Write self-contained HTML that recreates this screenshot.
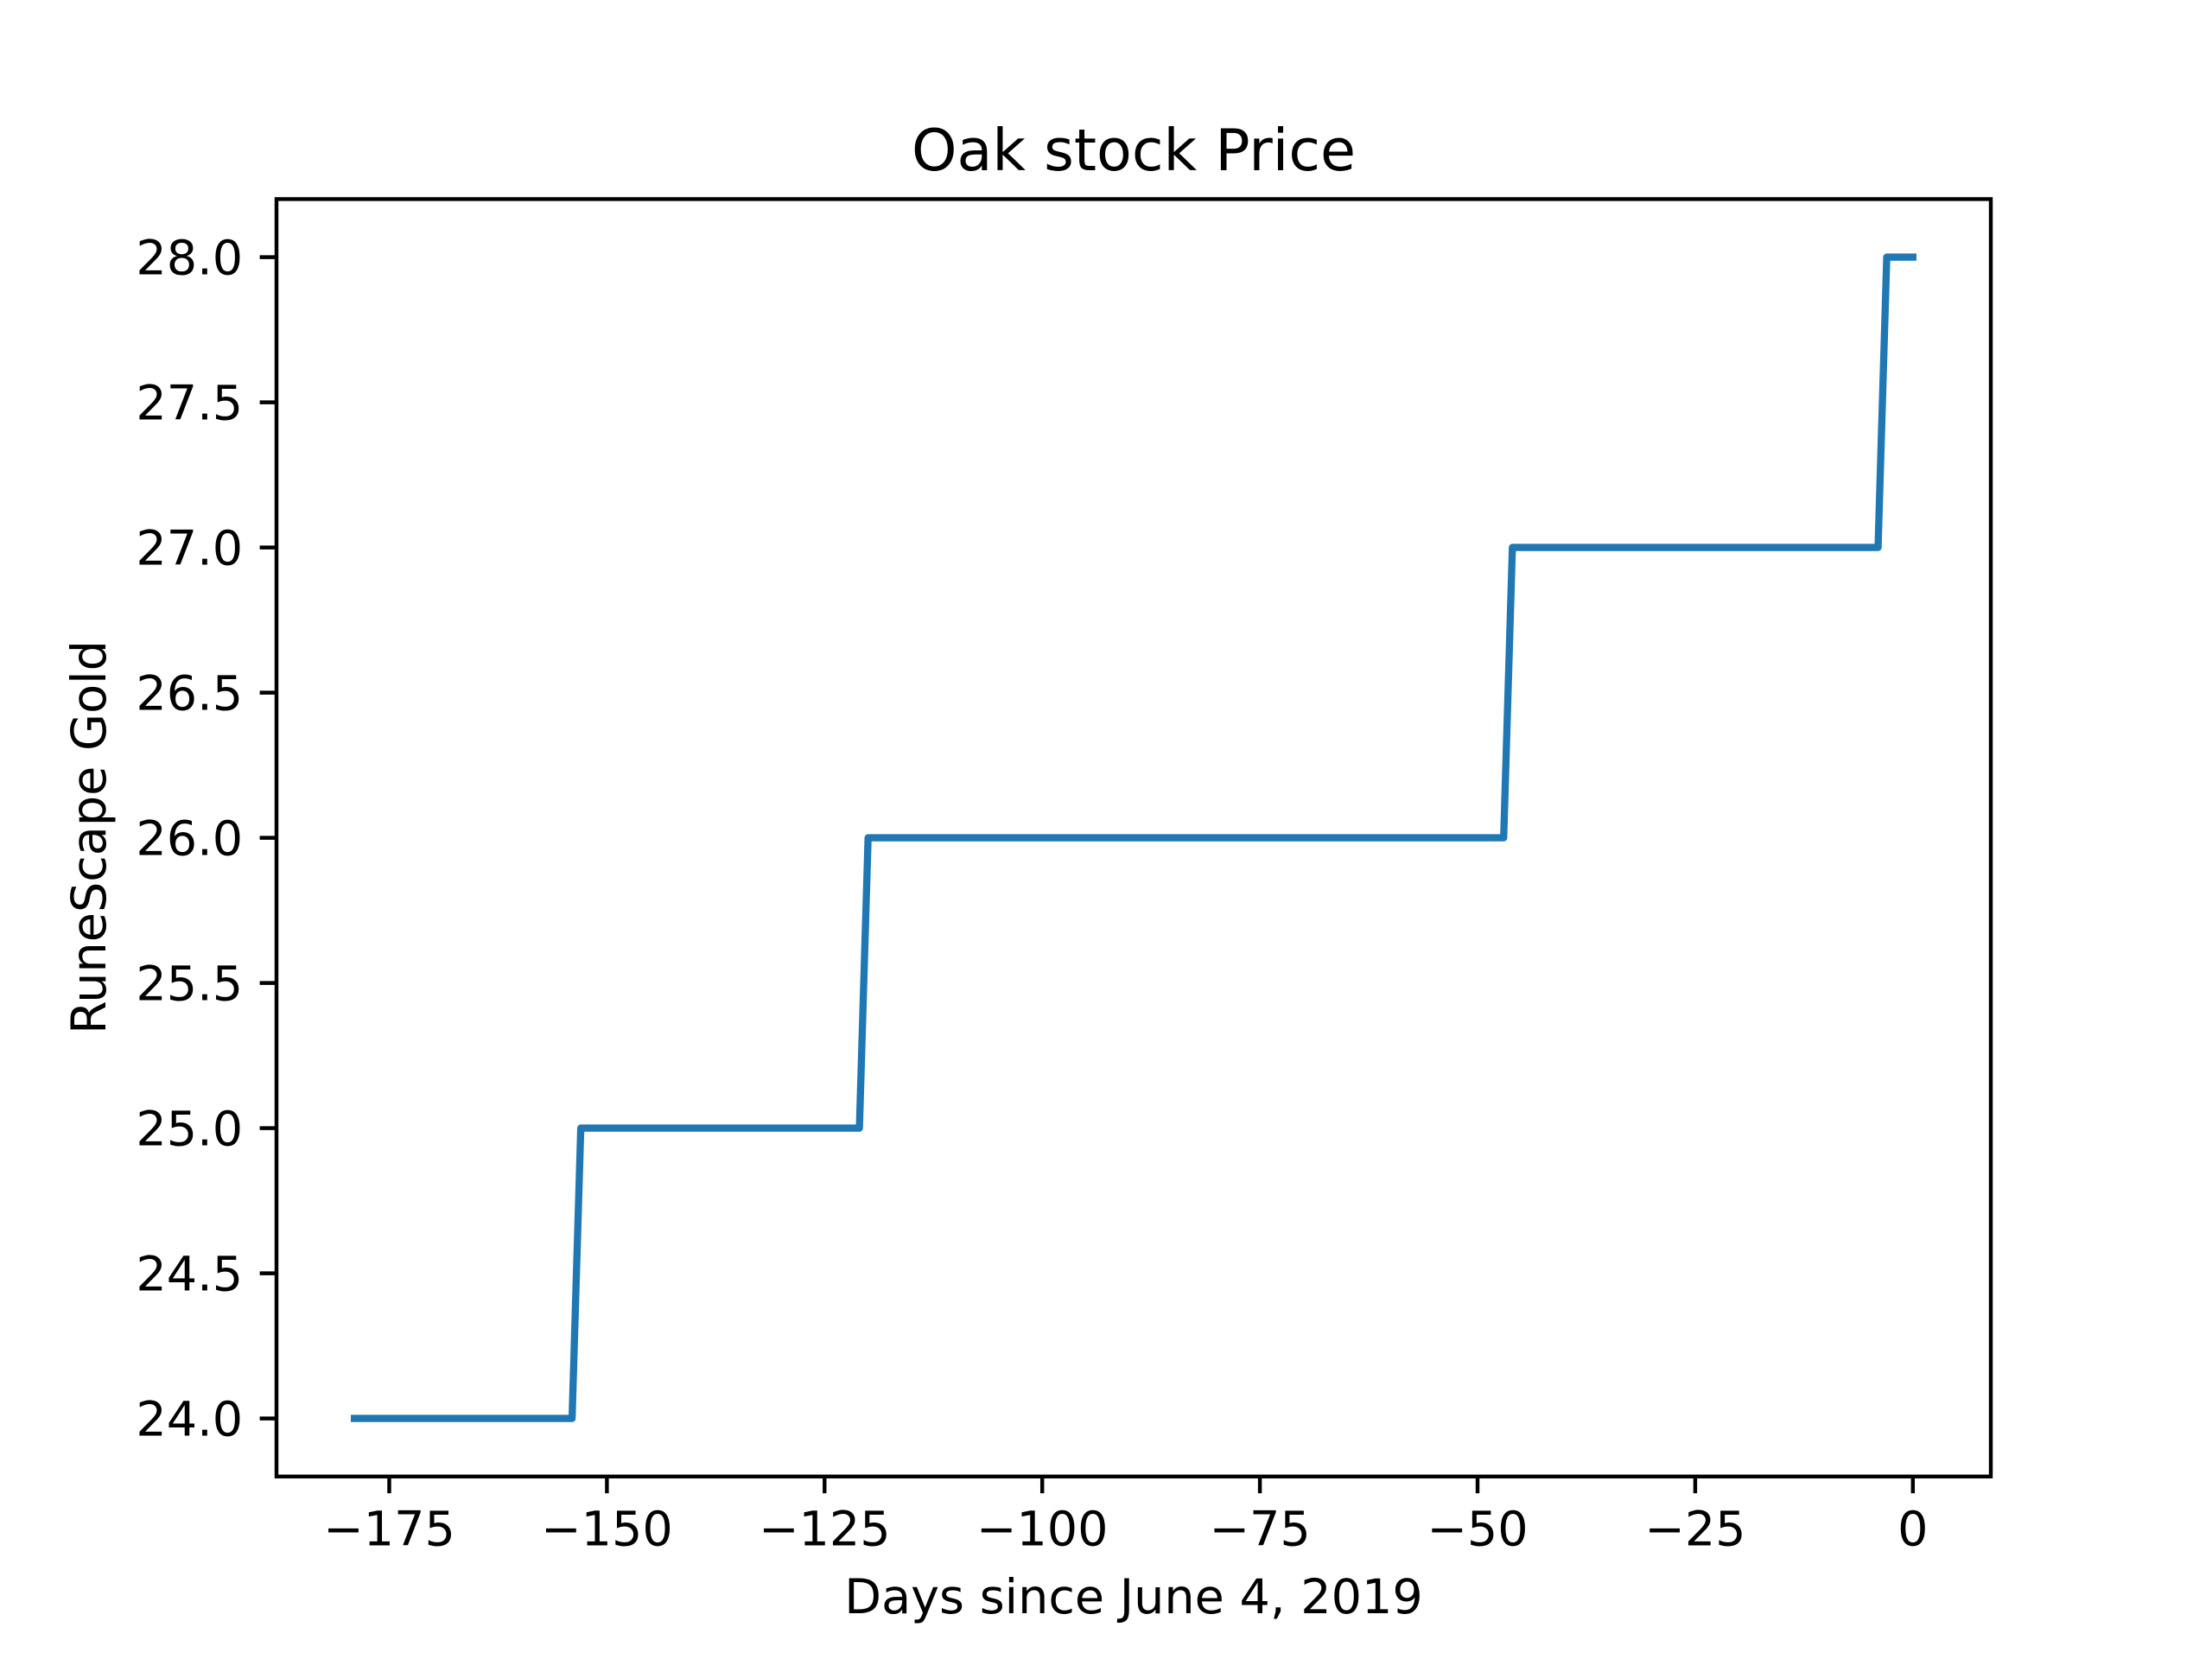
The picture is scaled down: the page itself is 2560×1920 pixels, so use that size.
<!DOCTYPE html>
<html><head><meta charset="utf-8"><style>
html,body{margin:0;padding:0;background:#fff;}
svg{display:block;font-family:"DejaVu Sans","Liberation Sans",sans-serif;}
</style></head><body>
<svg id="chart" width="2560" height="1920" viewBox="0 0 2560 1920" xmlns="http://www.w3.org/2000/svg">
<rect width="2560" height="1920" fill="#fff"/>
<text x="1312" y="197" font-size="66.7" text-anchor="middle">Oak stock Price</text>
<text x="1312" y="1867" font-size="55.6" text-anchor="middle">Days since June 4, 2019</text>
<text transform="translate(122,969) rotate(-90)" font-size="55.6" text-anchor="middle">RuneScape Gold</text>
<g id="xticks"></g>
<g id="yticks"></g>
<g id="plot"></g>
<rect x="320" y="230.4" width="1984" height="1478.4" fill="none" stroke="#000" stroke-width="4.44"/>
</svg>
<script>
const days = [-179, -154, -153, -121, -120, -47, -46, -4, -3, 0];
const prices = [24, 24, 25, 25, 26, 26, 27, 27, 28, 28];
const xTickValues = [-175, -150, -125, -100, -75, -50, -25, 0];
const xTickLabels = ["−175", "−150", "−125", "−100", "−75", "−50", "−25", "0"];
const yTickValues = [24.0, 24.5, 25.0, 25.5, 26.0, 26.5, 27.0, 27.5, 28.0];
const yTickLabels = ["24.0", "24.5", "25.0", "25.5", "26.0", "26.5", "27.0", "27.5", "28.0"];

const NS = "http://www.w3.org/2000/svg";
const L = 320, R = 2304, T = 230.4, B = 1708.8;
const xmin0 = Math.min(...days), xmax0 = Math.max(...days);
const ymin0 = Math.min(...prices), ymax0 = Math.max(...prices);
const xm = (xmax0 - xmin0) * 0.05, ym = (ymax0 - ymin0) * 0.05;
const xlo = xmin0 - xm, xhi = xmax0 + xm, ylo = ymin0 - ym, yhi = ymax0 + ym;
function sx(v){ return L + (v - xlo) / (xhi - xlo) * (R - L); }
function sy(v){ return B - (v - ylo) / (yhi - ylo) * (B - T); }

const xg = document.getElementById('xticks');
xTickValues.forEach((v, i) => {
  const x = sx(v);
  const ln = document.createElementNS(NS, 'line');
  ln.setAttribute('x1', x); ln.setAttribute('x2', x);
  ln.setAttribute('y1', B); ln.setAttribute('y2', B + 19.4);
  ln.setAttribute('stroke', '#000'); ln.setAttribute('stroke-width', '4.44');
  
  
  xg.appendChild(ln);
  const t = document.createElementNS(NS, 'text');
  t.setAttribute('x', x); t.setAttribute('y', B + 38.8 + 41);
  t.setAttribute('font-size', '55.6'); t.setAttribute('text-anchor', 'middle');
  t.textContent = xTickLabels[i];
  
  
  xg.appendChild(t);
});
const yg = document.getElementById('yticks');
yTickValues.forEach((v, i) => {
  const y = sy(v);
  const ln = document.createElementNS(NS, 'line');
  ln.setAttribute('x1', L - 19.4); ln.setAttribute('x2', L);
  ln.setAttribute('y1', y); ln.setAttribute('y2', y);
  ln.setAttribute('stroke', '#000'); ln.setAttribute('stroke-width', '4.44');
  
  
  yg.appendChild(ln);
  const t = document.createElementNS(NS, 'text');
  t.setAttribute('x', L - 38.8); t.setAttribute('y', y + 20);
  t.setAttribute('font-size', '55.6'); t.setAttribute('text-anchor', 'end');
  t.textContent = yTickLabels[i];
  
  
  yg.appendChild(t);
});
const pg = document.getElementById('plot');
const pl = document.createElementNS(NS, 'polyline');
pl.setAttribute('points', days.map((d, i) => sx(d) + ',' + sy(prices[i])).join(' '));
pl.setAttribute('fill', 'none'); pl.setAttribute('stroke', '#1f77b4');
pl.setAttribute('stroke-width', '8.33'); pl.setAttribute('stroke-linejoin', 'round');
pl.setAttribute('stroke-linecap', 'square');


pg.appendChild(pl);
</script>
</body></html>
